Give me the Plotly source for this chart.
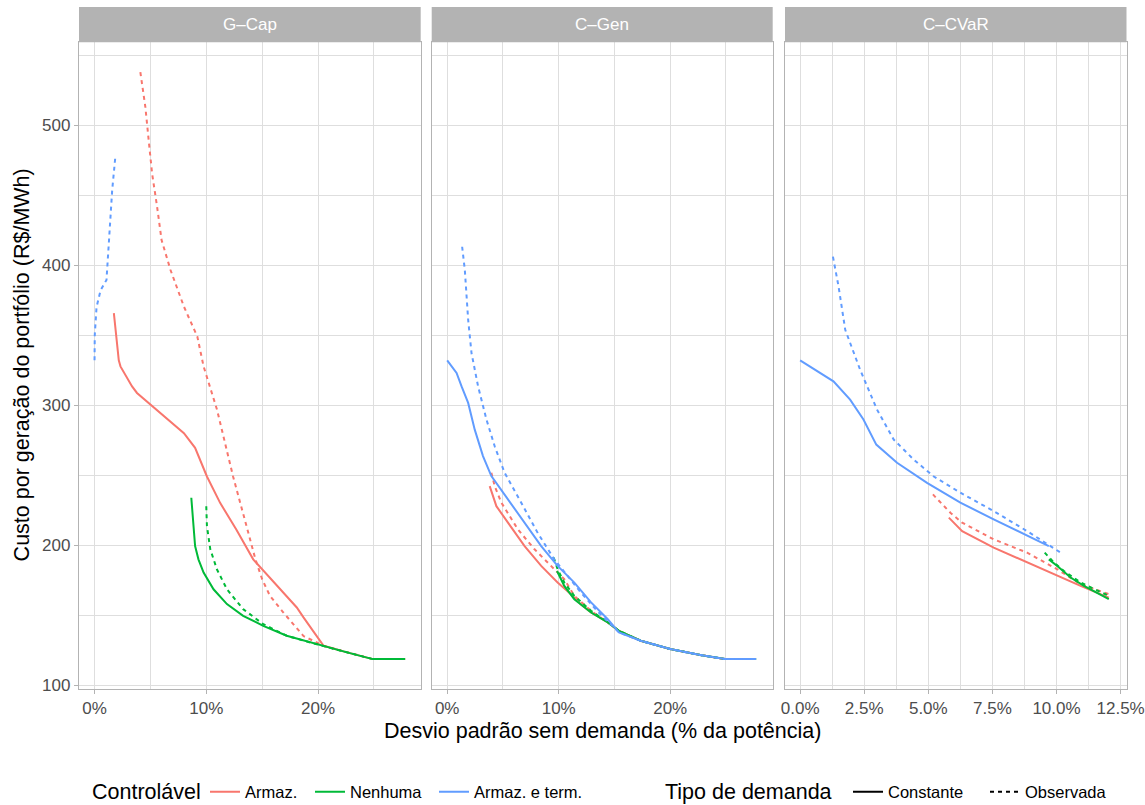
import plotly.graph_objects as go

# ---------------- data (x in % of capacity, y in R$/MWh) ----------------
panels = ["G–Cap", "C–Gen", "C–CVaR"]
controls = ["Armaz.", "Nenhuma", "Armaz. e term."]
demand_types = ["Constante", "Observada"]

# G-Cap
gcap_armaz_const_x = [1.73, 2.17, 2.32, 3.36, 3.8, 5.0, 6.8, 8.0, 9.0, 10.06, 11.25, 12.7, 14.2, 15.0, 16.3, 18.1, 18.7, 20.5, 22.6, 24.9, 27.8]
gcap_armaz_const_y = [365.7, 332, 327.7, 313.4, 308.7, 300.4, 288.5, 280, 269.5, 249, 230, 211, 189.8, 182.7, 170.8, 155.4, 148.3, 128, 123.3, 118.5, 118.5]
gcap_armaz_obs_x = [4.1, 4.55, 4.85, 5.15, 5.6, 6.0, 6.8, 8.0, 9.2, 9.76, 10.96, 12.4, 13.6, 14.4, 15.0, 15.7, 16.9, 18.7, 20.5, 22.6, 24.9, 27.8]
gcap_armaz_obs_y = [538, 513, 489, 465.6, 441.7, 418, 396.6, 370.4, 349, 327.7, 296.8, 249, 213.6, 189.8, 175.6, 163.7, 151.8, 135, 128, 123.3, 118.5, 118.5]
gcap_nenhuma_const_x = [8.66, 9.0, 9.3, 9.76, 10.65, 11.85, 13.3, 15.1, 17.2, 19.3, 20.5, 22.6, 24.9, 27.8]
gcap_nenhuma_const_y = [233.8, 199.3, 189.8, 180.4, 168.4, 157.8, 149.4, 142.3, 135.2, 130.4, 128, 123.3, 118.5, 118.5]
gcap_nenhuma_obs_x = [10.0, 10.06, 10.36, 10.95, 11.85, 13.3, 15.1, 17.2, 19.3, 20.5, 22.6, 24.9, 27.8]
gcap_nenhuma_obs_y = [227.8, 213.6, 197, 182.7, 168.4, 154.2, 143.5, 135.2, 130.4, 128, 123.3, 118.5, 118.5]
gcap_term_obs_x = [0.0, 0.02, 0.18, 0.54, 1.07, 1.28, 1.58, 1.875]
gcap_term_obs_y = [332, 350, 370, 382, 389.5, 418, 453.7, 478.6]

# C-Gen
cgen_armaz_const_x = [3.81, 4.41, 5.45, 6.94, 8.43, 9.9, 11.1, 12.0, 12.9, 14.4, 15.4, 17.36, 20.0, 22.7, 24.9, 27.7]
cgen_armaz_const_y = [242.1, 227.8, 216, 199.3, 185.1, 173.2, 164.8, 157.5, 151.8, 144.7, 138.7, 131.6, 125.7, 121.4, 118.5, 118.5]
cgen_armaz_obs_x = [3.96, 4.26, 4.86, 6.34, 7.83, 9.32, 10.5, 11.4, 12.9, 14.4, 15.4, 17.36, 20.0, 22.7, 24.9, 27.7]
cgen_armaz_obs_y = [251.7, 242.1, 230.3, 211.2, 197, 185.1, 175.6, 163.7, 153, 144.7, 138.7, 131.6, 125.7, 121.4, 118.5, 118.5]
cgen_nenhuma_const_x = [9.85, 10.5, 11.4, 12.9, 14.4, 15.4, 17.36, 20.0, 22.7, 24.9, 27.7]
cgen_nenhuma_const_y = [181.5, 170.8, 161.3, 151.8, 144.7, 138.7, 131.6, 125.7, 121.4, 118.5, 118.5]
cgen_nenhuma_obs_x = [9.55, 9.9, 10.5, 11.4, 12.9, 14.4, 15.4, 17.36, 20.0, 22.7, 24.9, 27.7]
cgen_nenhuma_obs_y = [191, 182.7, 173.2, 163.7, 153, 145, 138.7, 131.6, 125.7, 121.4, 118.5, 118.5]
cgen_term_const_x = [0, 0.84, 1.29, 1.88, 2.47, 3.21, 3.96, 5.45, 6.94, 8.43, 9.9, 11.4, 12.9, 14.4, 15.4, 17.36, 20.0, 22.7, 24.9, 27.7]
cgen_term_const_y = [332, 323, 313.4, 301.6, 282.5, 263.6, 249.3, 232.6, 216, 199.3, 185.1, 173.2, 159, 147, 137.6, 131.6, 125.7, 121.4, 118.5, 118.5]
cgen_term_obs_x = [1.34, 1.58, 1.88, 2.18, 2.77, 3.52, 4.26, 5.15, 6.64, 8.1, 9.6, 10.8, 12.0, 13.5, 15.4, 17.36, 20.0, 22.7, 24.9, 27.7]
cgen_term_obs_y = [413.2, 396.6, 361, 337.2, 313.4, 289.7, 270.6, 251.7, 230.3, 208.9, 189.8, 177.9, 166, 152.5, 137.6, 131.6, 125.7, 121.4, 118.5, 118.5]

# C-CVaR
ccvar_armaz_const_x = [5.8, 6.32, 7.55, 8.85, 10.03, 10.94, 12.04]
ccvar_armaz_const_y = [219.6, 210, 198.2, 187.5, 177.9, 170.8, 162.5]
ccvar_armaz_obs_x = [5.18, 5.86, 6.32, 7.55, 8.85, 10.03, 10.94, 12.04]
ccvar_armaz_obs_y = [236.2, 223.1, 216, 204.1, 194.6, 182.7, 172, 164.9]
ccvar_nenhuma_const_x = [9.7, 10.03, 10.55, 11.07, 12.04]
ccvar_nenhuma_const_y = [189.8, 185.1, 176.8, 170.8, 161.3]
ccvar_nenhuma_obs_x = [9.54, 9.9, 10.29, 10.94, 12.04]
ccvar_nenhuma_obs_y = [194.6, 187.5, 181.5, 173.2, 163.7]
ccvar_term_const_x = [0, 1.3, 1.95, 2.47, 2.97, 3.78, 4.95, 6.25, 7.55, 8.85, 9.7]
ccvar_term_const_y = [332, 317, 303.9, 289.7, 271.8, 258.8, 244.5, 230.3, 218.4, 206.5, 199.3]
ccvar_term_obs_x = [1.28, 1.5, 1.76, 2.34, 3.0, 3.65, 4.43, 5.2, 6.25, 7.55, 8.85, 9.64, 10.16]
ccvar_term_obs_y = [406.1, 384.7, 353.8, 325.3, 296.8, 275.4, 261.1, 249.2, 237.4, 224.3, 210, 200.5, 194.6]

# tick labels
y_ticks = [100, 200, 300, 400, 500]
y_minor = [150, 250, 350, 450, 550]
x_ticks_wide = [0, 10, 20]
x_ticklabels_wide = ["0%", "10%", "20%"]
x_minor_wide = [5, 15, 25]
x_ticks_cvar = [0, 2.5, 5.0, 7.5, 10.0, 12.5]
x_ticklabels_cvar = ["0.0%", "2.5%", "5.0%", "7.5%", "10.0%", "12.5%"]
x_minor_cvar = [1.25, 3.75, 6.25, 8.75, 11.25]

# ---------------- styling ----------------
colors = {"Armaz.": "#F8766D", "Nenhuma": "#00BA38", "Armaz. e term.": "#619CFF"}
dashes = {"Constante": "solid", "Observada": "4px,4px"}
FONT = "Liberation Sans, Arial, sans-serif"
W, H = 1145, 805
SMALL = 17
BIG = 21.5

series = [
    (0, "Armaz.", "Constante", gcap_armaz_const_x, gcap_armaz_const_y),
    (0, "Armaz.", "Observada", gcap_armaz_obs_x, gcap_armaz_obs_y),
    (0, "Nenhuma", "Constante", gcap_nenhuma_const_x, gcap_nenhuma_const_y),
    (0, "Nenhuma", "Observada", gcap_nenhuma_obs_x, gcap_nenhuma_obs_y),
    (0, "Armaz. e term.", "Observada", gcap_term_obs_x, gcap_term_obs_y),
    (1, "Armaz.", "Constante", cgen_armaz_const_x, cgen_armaz_const_y),
    (1, "Armaz.", "Observada", cgen_armaz_obs_x, cgen_armaz_obs_y),
    (1, "Nenhuma", "Constante", cgen_nenhuma_const_x, cgen_nenhuma_const_y),
    (1, "Nenhuma", "Observada", cgen_nenhuma_obs_x, cgen_nenhuma_obs_y),
    (1, "Armaz. e term.", "Constante", cgen_term_const_x, cgen_term_const_y),
    (1, "Armaz. e term.", "Observada", cgen_term_obs_x, cgen_term_obs_y),
    (2, "Armaz.", "Constante", ccvar_armaz_const_x, ccvar_armaz_const_y),
    (2, "Armaz.", "Observada", ccvar_armaz_obs_x, ccvar_armaz_obs_y),
    (2, "Nenhuma", "Constante", ccvar_nenhuma_const_x, ccvar_nenhuma_const_y),
    (2, "Nenhuma", "Observada", ccvar_nenhuma_obs_x, ccvar_nenhuma_obs_y),
    (2, "Armaz. e term.", "Constante", ccvar_term_const_x, ccvar_term_const_y),
    (2, "Armaz. e term.", "Observada", ccvar_term_obs_x, ccvar_term_obs_y),
]

# panel pixel geometry
px_left = [79, 431.7, 785]
px_right = [420.7, 772.7, 1126.5]
plot_top, plot_bottom = 42.3, 688.5
strip_top = 7
x_ranges = [[-1.39, 29.19], [-1.39, 29.19], [-0.59, 12.73]]
y_range = [97.5, 559.3]

fig = go.Figure()

axis_names = ["", "2", "3"]
for pi, ctrl, dem, xs, ys in series:
    fig.add_trace(go.Scatter(
        x=xs, y=ys, mode="lines",
        line=dict(color=colors[ctrl], width=2, dash=dashes[dem]),
        xaxis="x" + axis_names[pi], yaxis="y" + axis_names[pi],
        showlegend=False, hoverinfo="skip",
    ))

# legend entries: one legend box per key so each can be placed like ggplot's keys
legend_keys = [
    ("Armaz.", colors["Armaz."], "solid", 205),
    ("Nenhuma", colors["Nenhuma"], "solid", 310),
    ("Armaz. e term.", colors["Armaz. e term."], "solid", 434),
    ("Constante", "black", "solid", 848),
    ("Observada", "black", dashes["Observada"], 985),
]
legend_y_center = 792
for k, (name, col, dash, xpix) in enumerate(legend_keys):
    lname = "legend" if k == 0 else "legend%d" % (k + 1)
    fig.add_trace(go.Scatter(x=[None], y=[None], mode="lines", name=name,
                             line=dict(color=col, width=2, dash=dash),
                             legend=lname))

grid_col = "#DEDEDE"
border_col = "#B3B3B3"
ydom = [1 - plot_bottom / H, 1 - plot_top / H]

layout = dict(
    width=W, height=H,
    margin=dict(l=0, r=0, t=0, b=0, autoexpand=False),
    paper_bgcolor="white", plot_bgcolor="white",
    font=dict(family=FONT, size=SMALL, color="#4D4D4D"),
    shapes=[], annotations=[],
)

for k, (name, col, dash, xpix) in enumerate(legend_keys):
    lname = "legend" if k == 0 else "legend%d" % (k + 1)
    layout[lname] = dict(
        orientation="h", x=xpix / W, y=1 - legend_y_center / H,
        xanchor="left", yanchor="middle",
        font=dict(family=FONT, size=16.5, color="black"),
        bgcolor="rgba(0,0,0,0)", borderwidth=0,
    )

for i in range(3):
    sfx = axis_names[i]
    if i < 2:
        tv, tt, mv = x_ticks_wide, x_ticklabels_wide, x_minor_wide
    else:
        tv, tt, mv = x_ticks_cvar, x_ticklabels_cvar, x_minor_cvar
    layout["xaxis" + sfx] = dict(
        domain=[px_left[i] / W, px_right[i] / W], range=x_ranges[i],
        anchor="y" + sfx, tickvals=tv, ticktext=tt,
        showgrid=True, gridcolor=grid_col, gridwidth=1,
        minor=dict(tickvals=mv, showgrid=True, gridcolor=grid_col, gridwidth=0.6, ticklen=0),
        showline=True, linecolor=border_col, linewidth=1.3, mirror=True,
        ticks="outside", ticklen=4, tickcolor=border_col, tickwidth=1,
        tickfont=dict(family=FONT, size=SMALL, color="#4D4D4D"),
        zeroline=False, fixedrange=True, automargin=False,
    )
    layout["yaxis" + sfx] = dict(
        domain=ydom, range=y_range, anchor="x" + sfx,
        tickvals=y_ticks, showticklabels=(i == 0),
        showgrid=True, gridcolor=grid_col, gridwidth=1,
        minor=dict(tickvals=y_minor, showgrid=True, gridcolor=grid_col, gridwidth=0.6, ticklen=0),
        showline=True, linecolor=border_col, linewidth=1.3, mirror=True,
        ticks="outside" if i == 0 else "", ticklen=4, tickcolor=border_col, tickwidth=1,
        tickfont=dict(family=FONT, size=SMALL, color="#4D4D4D"),
        zeroline=False, fixedrange=True, automargin=False,
    )
    layout["shapes"].append(dict(
        type="rect", xref="paper", yref="paper",
        x0=px_left[i] / W, x1=px_right[i] / W,
        y0=1 - plot_top / H, y1=1 - strip_top / H,
        fillcolor=border_col, line=dict(width=0), layer="above",
    ))
    layout["annotations"].append(dict(
        text=panels[i], xref="paper", yref="paper",
        x=(px_left[i] + px_right[i]) / 2 / W, y=1 - (strip_top + plot_top) / 2 / H,
        xanchor="center", yanchor="middle", showarrow=False,
        font=dict(family=FONT, size=SMALL, color="white"),
    ))

layout["annotations"].append(dict(
    text="Desvio padrão sem demanda (% da potência)", xref="paper", yref="paper",
    x=(px_left[0] + px_right[2]) / 2 / W, y=1 - 731 / H,
    xanchor="center", yanchor="middle", showarrow=False,
    font=dict(family=FONT, size=BIG, color="black"),
))
layout["annotations"].append(dict(
    text="Custo por geração do portfólio (R$/MWh)", xref="paper", yref="paper",
    x=22 / W, y=1 - (plot_top + plot_bottom) / 2 / H, textangle=-90,
    xanchor="center", yanchor="middle", showarrow=False,
    font=dict(family=FONT, size=BIG, color="black"),
))
# legend titles
layout["annotations"].append(dict(
    text="Controlável", xref="paper", yref="paper",
    x=90 / W, y=1 - legend_y_center / H, xanchor="left", yanchor="middle",
    showarrow=False, font=dict(family=FONT, size=BIG, color="black"),
))
layout["annotations"].append(dict(
    text="Tipo de demanda", xref="paper", yref="paper",
    x=663 / W, y=1 - legend_y_center / H, xanchor="left", yanchor="middle",
    showarrow=False, font=dict(family=FONT, size=BIG, color="black"),
))

fig.update_layout(**layout)
# remove the browser's default 8px body margin so the figure fills the window exactly
fig.write_html("out.html",
               config={"displayModeBar": False, "staticPlot": False},
               post_script="document.body.style.margin='0px';document.body.style.overflow='hidden';")
